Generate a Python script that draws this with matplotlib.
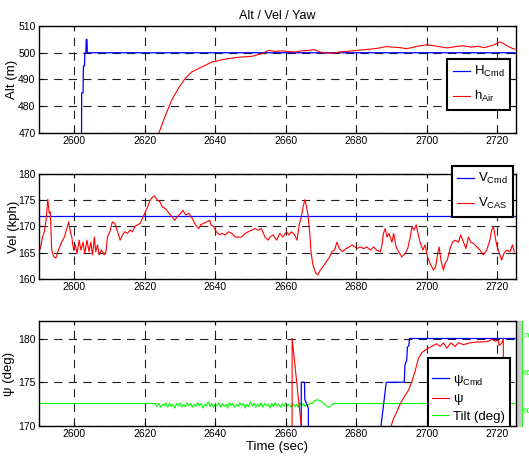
import numpy as np
import matplotlib
matplotlib.use("Agg")
import matplotlib.pyplot as plt
from matplotlib.patches import Rectangle

plt.rcParams["font.family"] = ["Liberation Sans", "DejaVu Sans"]
plt.rcParams["mathtext.fontset"] = "custom"
plt.rcParams["mathtext.rm"] = "Liberation Sans"
plt.rcParams["mathtext.it"] = "Liberation Sans:italic"
plt.rcParams["lines.scale_dashes"] = False

# ---- data ----
x_ticks = [2600, 2620, 2640, 2660, 2680, 2700, 2720]

# altitude
h_cmd_t = [2590, 2602.0, 2602.1, 2602.5, 2602.6, 2602.9, 2603.0, 2603.3, 2603.4, 2603.6, 2603.7, 2725]
h_cmd = [440, 440, 485, 485, 495, 495, 500, 500, 505, 505, 500, 500]
h_air_t = [2624.0, 2625.7, 2627.6, 2629.5, 2631.4, 2633.3, 2636.2, 2639.0, 2641.9, 2645.7,
           2650.5, 2653.3, 2654.2, 2655.2, 2657.0, 2659.0, 2661.0, 2662.8, 2664.5, 2666.6,
           2668.0, 2670.4, 2673.3, 2675.2, 2677.0, 2679.0, 2681.0, 2682.8, 2685.0, 2686.7,
           2688.5, 2690.5, 2692.5, 2694.3, 2697.2, 2700.1, 2703.0, 2705.8, 2708.7, 2710.5,
           2712.5, 2714.5, 2716.3, 2719.2, 2720.6, 2721.6, 2723.0, 2724.5, 2725.0]
h_air = [470.0, 476.0, 482.2, 486.6, 490.3, 492.8, 494.7, 496.5, 497.4, 498.2,
         498.7, 499.7, 500.3, 500.9, 500.5, 500.7, 500.4, 500.3, 500.7, 500.9,
         501.2, 500.0, 499.8, 500.3, 500.5, 500.7, 501.0, 501.2, 501.5, 501.8,
         502.3, 502.1, 501.9, 501.5, 502.4, 503.0, 502.4, 501.8, 502.4, 502.6,
         502.1, 502.4, 501.9, 503.0, 504.0, 503.6, 502.4, 501.5, 501.4]

# velocity
v_cmd_t = [2590, 2725]
v_cmd = [172, 172]
v_cas_t = [2589.6, 2590.4, 2591.0, 2591.5, 2592.0, 2592.5, 2592.9, 2593.2, 2593.6, 2594.2,
           2594.8, 2595.5, 2596.4, 2597.2, 2597.9, 2598.4, 2598.9, 2599.3, 2599.8, 2600.3,
           2600.8, 2601.4, 2601.9, 2602.5, 2603.0, 2603.6, 2604.2, 2604.7, 2605.2, 2605.7,
           2606.1, 2606.6, 2607.1, 2607.7, 2608.5, 2609.0, 2609.4, 2610.1, 2610.8, 2611.5,
           2612.3, 2613.0, 2613.7, 2614.3, 2615.1, 2615.8, 2616.5, 2617.2, 2617.9, 2618.7,
           2619.3, 2620.0, 2620.8, 2621.5, 2622.2, 2622.8, 2623.6, 2624.3, 2625.0, 2625.9,
           2626.9, 2627.8, 2628.5, 2629.2, 2630.2, 2630.8, 2631.6, 2632.5, 2633.5, 2634.4,
           2635.3, 2635.8, 2636.7, 2637.7, 2638.4, 2638.8, 2639.5, 2640.3, 2641.2, 2641.9,
           2642.8, 2643.8, 2644.7, 2645.6, 2646.6, 2647.5, 2648.5, 2649.4, 2650.3, 2651.3,
           2652.2, 2653.1, 2654.1, 2655.0, 2655.5, 2656.4, 2657.4, 2658.3, 2659.2, 2660.2,
           2660.9, 2661.6, 2662.5, 2663.2, 2663.8, 2664.4, 2664.9, 2665.4, 2665.8, 2666.3,
           2666.8, 2667.2, 2667.7, 2668.5, 2669.1, 2669.8, 2670.5, 2671.5, 2672.4, 2673.1,
           2673.8, 2674.5, 2675.2, 2676.1, 2677.1, 2678.0, 2678.8, 2680.2, 2681.1, 2682.1,
           2683.0, 2684.0, 2684.9, 2685.8, 2686.8, 2687.3, 2687.7, 2688.2, 2688.7, 2689.3,
           2690.1, 2690.6, 2691.3, 2692.0, 2692.9, 2693.9, 2694.6, 2695.3, 2695.8, 2696.4,
           2697.0, 2697.5, 2698.1, 2698.9, 2699.5, 2700.2, 2700.9, 2701.9, 2702.5, 2703.1,
           2703.5, 2704.0, 2704.7, 2705.2, 2705.8, 2706.6, 2707.3, 2708.0, 2709.0, 2709.6,
           2710.4, 2711.1, 2711.8, 2712.5, 2713.2, 2714.2, 2715.1, 2716.0, 2717.0, 2717.9,
           2718.4, 2718.9, 2719.3, 2719.8, 2720.6, 2721.2, 2721.9, 2722.6, 2723.6, 2724.3,
           2724.8]
v_cas = [164.9, 165.8, 168.0, 169.0, 171.2, 175.2, 172.5, 172.8, 165.5, 164.2,
         164.0, 165.5, 167.0, 168.0, 169.6, 170.9, 169.0, 168.0, 165.5, 166.5,
         164.9, 167.4, 165.5, 167.0, 164.9, 167.4, 165.2, 167.0, 164.6, 168.0,
         165.2, 166.5, 164.6, 165.5, 164.6, 165.2, 168.0, 169.0, 170.9, 170.6,
         169.0, 167.4, 168.4, 169.0, 168.7, 169.3, 169.0, 170.0, 170.3, 170.6,
         171.5, 172.5, 173.7, 175.0, 175.6, 175.8, 175.0, 174.7, 173.7, 173.4,
         172.5, 171.8, 171.2, 171.8, 172.5, 173.1, 172.2, 172.5, 171.5, 170.3,
         169.6, 170.3, 170.6, 170.9, 171.2, 170.3, 170.0, 169.0, 168.4, 168.7,
         168.4, 169.0, 168.7, 168.0, 168.0, 168.0, 168.7, 169.0, 169.3, 169.6,
         169.3, 169.6, 168.0, 167.4, 168.0, 168.4, 167.4, 168.7, 168.0, 169.0,
         168.4, 169.0, 168.4, 167.4, 170.3, 171.8, 173.7, 175.1, 174.0, 172.2,
         168.7, 164.9, 162.7, 161.1, 160.8, 161.7, 162.3, 163.3, 164.2, 165.2,
         165.5, 167.0, 165.8, 165.2, 165.8, 166.1, 166.5, 165.8, 166.1, 165.8,
         166.1, 165.5, 166.1, 165.5, 165.2, 166.5, 168.7, 169.6, 168.0, 168.7,
         167.0, 168.7, 166.1, 165.2, 164.2, 164.9, 165.8, 168.0, 170.0, 169.3,
         170.3, 168.7, 167.0, 165.5, 166.5, 164.2, 163.0, 161.7, 162.3, 164.9,
         166.1, 163.6, 161.7, 163.0, 163.6, 165.8, 167.0, 167.4, 167.0, 168.4,
         167.0, 165.8, 168.0, 167.0, 166.8, 166.1, 165.5, 164.6, 165.5, 167.4,
         169.3, 170.0, 168.4, 166.5, 164.9, 163.6, 164.9, 165.5, 165.2, 166.5,
         165.2]

# heading
psi_cmd_t = [2590, 2664.3, 2664.4, 2665.3, 2665.4, 2666.0, 2666.4, 2666.5, 2686.5, 2688.5,
             2693.6, 2693.8, 2694.3, 2694.5, 2694.9, 2695.1, 2725]
psi_cmd = [160, 160, 175, 175, 173, 172.5, 172, 160, 168.3, 175,
           175, 177, 177.5, 179, 179.2, 180, 180]
psi_t = [2590, 2661.75, 2661.8, 2664.4, 2666.0, 2689.0, 2689.9, 2690.5, 2691.5, 2692.4,
         2693.4, 2694.8, 2695.7, 2696.7, 2697.6, 2698.6, 2700.0, 2701.4, 2702.8, 2703.8,
         2704.7, 2705.7, 2706.8, 2708.0, 2709.0, 2710.4, 2712.3, 2714.2, 2716.0, 2717.5,
         2718.4, 2719.4, 2720.3, 2720.5, 2721.3, 2721.7, 2721.8, 2725]
psi = [150, 150, 180, 170, 164, 164, 170.0, 170.8, 171.6, 172.5,
       173.2, 174.1, 175.0, 176.3, 177.7, 178.4, 178.8, 179.1, 179.4, 179.1,
       179.5, 178.9, 179.5, 179.1, 179.5, 179.3, 179.5, 179.6, 179.6, 179.7,
       179.9, 179.7, 179.8, 179.2, 179.5, 180.0, 150, 150]

# tilt (right axis)
tilt_t0 = [2590, 2623.0]
tilt0 = [60.9, 60.9]
tilt_noise_t = np.arange(2623.5, 2667.01, 0.5)
tilt_noise = [60.5, 60.9, 60.4, 60.8, 60.6, 61.0, 60.4, 60.9, 60.5, 60.8, 60.3,
              60.9, 60.6, 61.0, 60.4, 60.8, 60.5, 61.0, 60.6, 60.9, 60.4, 60.8,
              60.5, 61.0, 60.6, 60.9, 60.3, 60.8, 60.6, 61.1, 60.5, 60.9, 60.4,
              60.8, 60.6, 61.0, 60.4, 60.9, 60.5, 60.8, 60.3, 61.0, 60.6, 60.9,
              60.4, 60.8, 60.5, 61.0, 60.6, 60.9, 60.3, 60.8, 60.5, 61.1, 60.6,
              60.9, 60.4, 60.8, 60.5, 61.0, 60.4, 60.9, 60.6, 60.8, 60.3, 60.9,
              60.5, 61.0, 60.6, 60.8, 60.4, 60.9, 60.5, 61.0, 60.6, 60.8, 60.4,
              60.9, 60.5, 60.8, 60.4, 61.0, 60.6, 60.9, 60.5, 60.8, 60.7, 60.9]
tilt_t1 = [2667.5, 2668.2, 2669.0, 2670.0, 2671.0, 2672.0, 2672.6, 2673.5, 2725]
tilt1 = [60.9, 61.3, 61.4, 61.2, 60.8, 60.4, 60.5, 60.9, 60.9]

tilt_t = np.concatenate([tilt_t0, tilt_noise_t, tilt_t1])
tilt = np.concatenate([tilt0, tilt_noise, tilt1])

# ---- figure ----
W, H = 529, 461
fig = plt.figure(figsize=(W / 100, H / 100), dpi=100)


def px_axes(top, bottom, left=39, right=516):
    return fig.add_axes([left / W, 1 - bottom / H, (right - left) / W, (bottom - top) / H])


def style(ax, yticks, ylim):
    ax.set_xlim(2590, 2725.3)
    ax.set_ylim(*ylim)
    ax.set_xticks(x_ticks)
    ax.set_yticks(yticks)
    ax.tick_params(direction="in", length=3, width=0.8, labelsize=7.5,
                   top=True, right=True, pad=2.5)
    ax.grid(True, color="#222222", lw=0.8, linestyle=(0, (6, 4.5)))
    for s in ax.spines.values():
        s.set_linewidth(1.0)


def legend(ax, handles, labels, right, top, bpad=0.4, lspace=0.75, **kw):
    leg = ax.legend(handles, labels, loc="upper right", bbox_to_anchor=(right, top),
                    bbox_transform=ax.transAxes, fontsize=9.5, handlelength=1.3,
                    handletextpad=0.3, labelspacing=lspace, borderpad=bpad,
                    borderaxespad=0, fancybox=False, framealpha=1, edgecolor="k", **kw)
    leg.get_frame().set_linewidth(1.5)
    leg.set_zorder(10)
    return leg


# panel 1: altitude
ax1 = px_axes(26, 133)
l1, = ax1.plot(h_cmd_t, h_cmd, color="#0000ff", lw=0.9)
l2, = ax1.plot(h_air_t, h_air, color="#ff0000", lw=0.8)
style(ax1, [470, 480, 490, 500, 510], (470, 510))
ax1.set_ylabel("Alt (m)", fontsize=9.5)
ax1.yaxis.set_label_coords(-0.044, 0.5)
ax1.set_title("Alt / Vel / Yaw", fontsize=9, pad=5)
legend(ax1, [l1, l2], [r"H$_{\mathrm{Cmd}}$", r"h$_{\mathrm{Air}}$"], 0.987, 0.692)

# panel 2: velocity
ax2 = px_axes(174, 279)
l3, = ax2.plot(v_cmd_t, v_cmd, color="#0000ff", lw=0.9)
l4, = ax2.plot(v_cas_t, v_cas, color="#ff0000", lw=0.8)
style(ax2, [160, 165, 170, 175, 180], (160, 180))
ax2.set_ylabel("Vel (kph)", fontsize=9.5)
ax2.yaxis.set_label_coords(-0.04, 0.5)
legend(ax2, [l3, l4], [r"V$_{\mathrm{Cmd}}$", r"V$_{\mathrm{CAS}}$"], 0.994, 1.076)

# panel 3: heading + tilt
ax3 = px_axes(321, 426)
l5, = ax3.plot(psi_cmd_t, psi_cmd, color="#0000ff", lw=0.9)
l6, = ax3.plot(psi_t, psi, color="#ff0000", lw=0.8)
style(ax3, [170, 175, 180], (170, 182))
ax3.set_ylabel("ψ (deg)", fontsize=9.5)
ax3.yaxis.set_label_coords(-0.05, 0.5)
ax3.set_xlabel("Time (sec)", fontsize=9.5, labelpad=1)

ax4 = ax3.twinx()
l7, = ax4.plot(tilt_t, tilt, color="#00ff00", lw=0.8)
ax4.set_ylim(57.9, 71.9)
ax4.set_yticks([60, 65, 70])
for k in ["top", "bottom", "left"]:
    ax4.spines[k].set_visible(False)
ax4.spines["right"].set_position(("axes", 1.0119))
ax4.spines["right"].set_color("#00ff00")
ax4.tick_params(axis="y", colors="#00ff00", direction="in", length=3,
                labelsize=6, pad=1)
fig.patches.append(Rectangle((516.7 / W, 1 - 426 / H), 4 / W, 105 / H,
                             transform=fig.transFigure, color="#c8c8c8", zorder=0))
ax3.set_zorder(ax4.get_zorder() + 1)
ax3.patch.set_visible(False)
# blank title only adds room above the first entry
leg3 = legend(ax3, [l5, l6, l7], [r"ψ$_{\mathrm{Cmd}}$", "ψ", "Tilt (deg)"],
              0.987, 0.650, bpad=0.35, lspace=0.4, title=" ", title_fontsize=4)
# frame runs past the bottom of the axes and is cut off there
leg3.get_frame().set_clip_box(ax3.bbox)
leg3.get_frame().set_clip_on(True)

fig.savefig("out.png", dpi=100)
